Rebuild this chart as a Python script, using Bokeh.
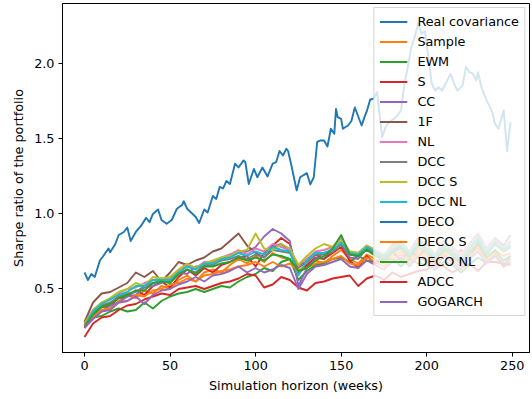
from bokeh.plotting import figure
from bokeh.models import Range1d, FixedTicker
from bokeh.embed import file_html
from bokeh.resources import INLINE

# ---- data ----
real_weeks = [0, 2, 4, 6, 9, 11, 14, 15, 18, 20, 23, 25, 27, 30, 33, 36, 38, 40, 43, 45,
              48, 51, 54, 57, 58, 60, 65, 67, 70, 72, 75, 77, 79, 81, 83, 85, 88, 90, 93, 94,
              96, 99, 101, 104, 107, 110, 112, 114, 116, 118, 119, 121, 124, 126, 130, 132, 134, 136, 138, 140,
              142, 144, 146, 147, 148, 150, 151, 154, 156, 158, 159, 162, 164, 165, 167, 169, 171, 174, 176, 178,
              182, 185, 187, 189, 191, 193, 195, 197, 199, 201, 203, 205, 207, 209, 212, 214, 216, 218, 221, 223,
              225, 227, 229, 230, 232, 235, 238, 240, 242, 245, 247, 249]
real_cov = [0.61, 0.56, 0.60, 0.58, 0.69, 0.72, 0.77, 0.745, 0.80, 0.86, 0.88, 0.91, 0.82, 0.88, 0.92, 0.975, 0.945, 1.00, 1.03, 0.96,
            0.935, 0.96, 1.035, 1.06, 1.085, 1.035, 0.98, 0.94, 1.03, 1.01, 1.12, 1.10, 1.18, 1.17, 1.22, 1.20, 1.335, 1.31, 1.357, 1.345,
            1.20, 1.30, 1.245, 1.31, 1.25, 1.335, 1.345, 1.42, 1.39, 1.435, 1.42, 1.32, 1.157, 1.245, 1.272, 1.197, 1.245, 1.48, 1.49, 1.49,
            1.45, 1.568, 1.535, 1.70, 1.645, 1.634, 1.568, 1.59, 1.62, 1.71, 1.68, 1.59, 1.657, 1.685, 1.763, 1.768, 1.812, 1.512, 1.58, 1.612,
            1.645, 1.69, 1.868, 1.98, 2.11, 2.18, 2.27, 2.20, 2.22, 2.045, 1.868, 1.823, 1.845, 1.823, 1.89, 1.935, 1.868, 1.823, 1.857, 1.98,
            1.945, 1.935, 1.89, 1.945, 1.845, 1.757, 1.69, 1.60, 1.568, 1.69, 1.42, 1.61]

weeks = list(range(0, 250, 5)) + [249]

sample = [0.27, 0.33, 0.38, 0.37, 0.42, 0.46, 0.44, 0.49, 0.47, 0.52,
          0.50, 0.56, 0.59, 0.55, 0.61, 0.63, 0.61, 0.66, 0.70, 0.67,
          0.72, 0.68, 0.74, 0.71, 0.70, 0.62, 0.66, 0.69, 0.67, 0.72,
          0.76, 0.70, 0.67, 0.73, 0.70, 0.67, 0.72, 0.75, 0.69, 0.76,
          0.72, 0.69, 0.77, 0.72, 0.67, 0.74, 0.79, 0.71, 0.76, 0.72, 0.74]
ewm = [0.26, 0.31, 0.32, 0.35, 0.37, 0.35, 0.36, 0.41, 0.37, 0.42,
       0.45, 0.47, 0.48, 0.50, 0.48, 0.50, 0.52, 0.51, 0.55, 0.58,
       0.60, 0.64, 0.62, 0.68, 0.70, 0.56, 0.62, 0.66, 0.67, 0.70,
       0.71, 0.68, 0.72, 0.69, 0.68, 0.70, 0.70, 0.65, 0.70, 0.67,
       0.66, 0.63, 0.68, 0.66, 0.61, 0.66, 0.71, 0.67, 0.72, 0.65, 0.68]
s_est = [0.24, 0.33, 0.38, 0.39, 0.44, 0.45, 0.49, 0.46, 0.52, 0.55,
         0.51, 0.58, 0.63, 0.59, 0.64, 0.61, 0.66, 0.68, 0.71, 0.72,
         0.65, 0.74, 0.79, 0.84, 0.80, 0.60, 0.66, 0.71, 0.70, 0.74,
         0.78, 0.69, 0.64, 0.72, 0.67, 0.70, 0.75, 0.69, 0.76, 0.71,
         0.78, 0.67, 0.74, 0.69, 0.76, 0.71, 0.80, 0.69, 0.74, 0.65, 0.72]
cc = [0.25, 0.31, 0.35, 0.39, 0.41, 0.45, 0.46, 0.51, 0.52, 0.54,
      0.58, 0.61, 0.60, 0.65, 0.65, 0.68, 0.69, 0.73, 0.74, 0.75,
      0.78, 0.85, 0.90, 0.87, 0.82, 0.52, 0.64, 0.70, 0.74, 0.76,
      0.80, 0.71, 0.70, 0.77, 0.73, 0.72, 0.79, 0.82, 0.75, 0.84,
      0.78, 0.73, 0.82, 0.76, 0.71, 0.80, 0.87, 0.77, 0.84, 0.79, 0.86]
one_f = [0.28, 0.41, 0.47, 0.48, 0.51, 0.54, 0.61, 0.58, 0.62, 0.55,
         0.61, 0.68, 0.66, 0.69, 0.71, 0.75, 0.77, 0.82, 0.87, 0.79,
         0.74, 0.71, 0.78, 0.80, 0.75, 0.66, 0.68, 0.73, 0.70, 0.76,
         0.80, 0.73, 0.72, 0.77, 0.74, 0.69, 0.75, 0.78, 0.71, 0.80,
         0.76, 0.71, 0.80, 0.74, 0.69, 0.78, 0.83, 0.73, 0.80, 0.75, 0.78]
nl = [0.27, 0.36, 0.41, 0.43, 0.47, 0.50, 0.51, 0.54, 0.56, 0.57,
      0.57, 0.62, 0.66, 0.64, 0.68, 0.68, 0.71, 0.73, 0.76, 0.73,
      0.77, 0.75, 0.80, 0.78, 0.76, 0.66, 0.70, 0.75, 0.76, 0.78,
      0.84, 0.75, 0.74, 0.79, 0.76, 0.73, 0.80, 0.82, 0.75, 0.82,
      0.80, 0.73, 0.82, 0.78, 0.73, 0.80, 0.87, 0.77, 0.84, 0.77, 0.82]
dcc = [0.26, 0.34, 0.39, 0.41, 0.45, 0.47, 0.48, 0.52, 0.54, 0.55,
       0.55, 0.60, 0.63, 0.61, 0.66, 0.66, 0.69, 0.70, 0.72, 0.70,
       0.73, 0.71, 0.76, 0.75, 0.74, 0.64, 0.68, 0.73, 0.73, 0.75,
       0.80, 0.73, 0.72, 0.77, 0.74, 0.71, 0.76, 0.79, 0.73, 0.80,
       0.76, 0.71, 0.78, 0.74, 0.69, 0.76, 0.83, 0.73, 0.80, 0.75, 0.78]
dcc_s = [0.27, 0.36, 0.41, 0.44, 0.48, 0.50, 0.54, 0.52, 0.58, 0.57,
         0.58, 0.63, 0.67, 0.64, 0.67, 0.69, 0.71, 0.72, 0.75, 0.76,
         0.87, 0.77, 0.76, 0.80, 0.77, 0.66, 0.72, 0.77, 0.80, 0.78,
         0.82, 0.75, 0.74, 0.79, 0.76, 0.73, 0.78, 0.81, 0.75, 0.82,
         0.78, 0.73, 0.80, 0.76, 0.71, 0.78, 0.85, 0.75, 0.82, 0.77, 0.80]
dcc_nl = [0.26, 0.35, 0.40, 0.43, 0.46, 0.48, 0.52, 0.52, 0.56, 0.56,
          0.56, 0.61, 0.65, 0.63, 0.67, 0.67, 0.70, 0.71, 0.74, 0.72,
          0.75, 0.73, 0.78, 0.76, 0.75, 0.59, 0.69, 0.74, 0.74, 0.76,
          0.81, 0.74, 0.73, 0.78, 0.75, 0.72, 0.77, 0.80, 0.74, 0.81,
          0.77, 0.72, 0.79, 0.75, 0.70, 0.77, 0.84, 0.74, 0.81, 0.76, 0.79]
deco = [float("nan")]
deco_s = [0.26, 0.32, 0.36, 0.37, 0.41, 0.42, 0.46, 0.45, 0.49, 0.50,
          0.53, 0.54, 0.57, 0.55, 0.59, 0.60, 0.62, 0.63, 0.65, 0.66,
          0.68, 0.65, 0.68, 0.65, 0.67, 0.62, 0.64, 0.67, 0.68, 0.70,
          0.72, 0.67, 0.66, 0.71, 0.68, 0.65, 0.70, 0.73, 0.67, 0.74,
          0.70, 0.65, 0.74, 0.70, 0.65, 0.72, 0.77, 0.69, 0.74, 0.69, 0.72]
deco_nl = [0.25, 0.33, 0.38, 0.40, 0.44, 0.46, 0.49, 0.49, 0.54, 0.55,
           0.54, 0.60, 0.63, 0.60, 0.65, 0.65, 0.67, 0.68, 0.71, 0.69,
           0.71, 0.69, 0.73, 0.72, 0.70, 0.62, 0.64, 0.69, 0.72, 0.77,
           0.86, 0.73, 0.72, 0.76, 0.72, 0.69, 0.74, 0.77, 0.71, 0.78,
           0.74, 0.69, 0.76, 0.72, 0.67, 0.74, 0.81, 0.71, 0.76, 0.69, 0.72]
adcc = [0.18, 0.27, 0.31, 0.32, 0.36, 0.39, 0.40, 0.43, 0.45, 0.47,
        0.46, 0.50, 0.51, 0.52, 0.50, 0.52, 0.54, 0.55, 0.57, 0.60,
        0.59, 0.51, 0.53, 0.58, 0.56, 0.51, 0.49, 0.54, 0.55, 0.57,
        0.58, 0.59, 0.52, 0.57, 0.59, 0.56, 0.61, 0.58, 0.60, 0.62,
        0.63, 0.66, 0.65, 0.61, 0.64, 0.67, 0.62, 0.68, 0.68, 0.67, 0.66]
gogarch = [0.24, 0.30, 0.35, 0.36, 0.41, 0.42, 0.45, 0.40, 0.46, 0.49,
           0.50, 0.53, 0.55, 0.58, 0.55, 0.59, 0.60, 0.62, 0.65, 0.61,
           0.64, 0.61, 0.63, 0.66, 0.64, 0.50, 0.60, 0.65, 0.66, 0.68,
           0.70, 0.65, 0.64, 0.69, 0.66, 0.63, 0.68, 0.71, 0.65, 0.72,
           0.68, 0.63, 0.72, 0.68, 0.63, 0.70, 0.75, 0.67, 0.72, 0.67, 0.70]

labels = ["Real covariance", "Sample", "EWM", "S", "CC", "1F", "NL", "DCC", "DCC S",
          "DCC NL", "DECO", "DECO S", "DECO NL", "ADCC", "GOGARCH"]
series = [real_cov, sample, ewm, s_est, cc, one_f, nl, dcc, dcc_s, dcc_nl,
          deco, deco_s, deco_nl, adcc, gogarch]
x_ticks = [0, 50, 100, 150, 200, 250]
y_ticks = [0.5, 1.0, 1.5, 2.0]

colors = ["#1f77b4", "#ff7f0e", "#2ca02c", "#d62728", "#9467bd",
          "#8c564b", "#e377c2", "#7f7f7f", "#bcbd22", "#17becf"]

FONT = "DejaVu Sans"
FS = "12.8px"

p = figure(width=532, height=399, output_backend="svg", toolbar_location=None,
           x_range=Range1d(-12.86, 260.1), y_range=Range1d(0.0767, 2.403),
           min_border_left=62, min_border_right=3, min_border_top=3, min_border_bottom=47)
p.background_fill_color = "white"
p.border_fill_color = "white"
p.outline_line_color = "black"
p.outline_line_width = 1.0
p.xgrid.visible = False
p.ygrid.visible = False

for i, (lab, ys) in enumerate(zip(labels, series)):
    xs = real_weeks if i == 0 else weeks[:len(ys)]
    p.line(xs, ys, line_color=colors[i % 10], line_width=1.9, line_join="round",
           legend_label=lab)

for ax in (p.xaxis[0], p.yaxis[0]):
    ax.axis_line_color = "black"
    ax.axis_line_width = 1.0
    ax.major_tick_line_color = "black"
    ax.major_tick_line_width = 1.0
    ax.major_tick_out = 4
    ax.major_tick_in = 0
    ax.minor_tick_line_color = None
    ax.major_label_text_font = FONT
    ax.major_label_text_font_size = FS
    ax.major_label_text_color = "black"
    ax.axis_label_text_font = FONT
    ax.axis_label_text_font_size = FS
    ax.axis_label_text_font_style = "normal"
    ax.axis_label_text_color = "black"
    ax.major_label_standoff = 4
    ax.axis_label_standoff = 5

p.xaxis.ticker = FixedTicker(ticks=x_ticks)
p.yaxis.ticker = FixedTicker(ticks=y_ticks)
p.xaxis.major_label_overrides = {t: str(t) for t in x_ticks}
p.yaxis.major_label_overrides = {t: f"{t:.1f}" for t in y_ticks}
p.xaxis.axis_label = "Simulation horizon (weeks)"
p.yaxis.axis_label = "Sharpe ratio of the portfolio"

lg = p.legend[0]
lg.location = "top_right"
lg.margin = 4
lg.padding = 5
lg.spacing = 3
lg.glyph_height = 17
lg.label_height = 17
lg.glyph_width = 28
lg.label_standoff = 10
lg.label_text_font = FONT
lg.label_text_font_size = FS
lg.label_text_color = "black"
lg.background_fill_color = "white"
lg.background_fill_alpha = 0.8
lg.border_line_color = "#cccccc"
lg.border_line_alpha = 0.8
lg.border_line_width = 1

open("out.html", "w").write(file_html(p, INLINE))
